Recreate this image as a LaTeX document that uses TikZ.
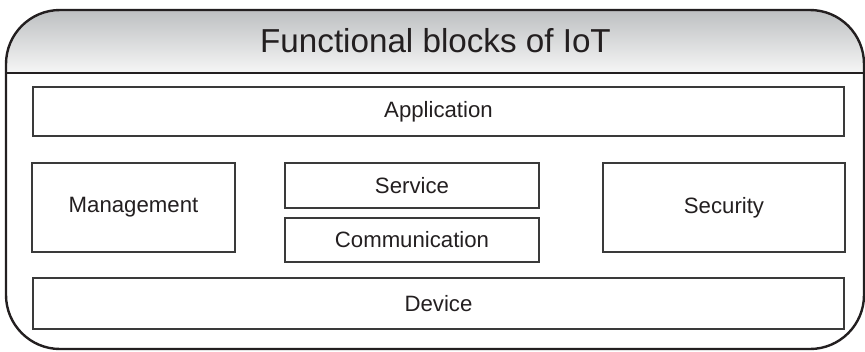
\documentclass[tikz,border=0pt]{standalone}
\usepackage{fontspec}
\setmainfont{Liberation Sans}
\definecolor{ink}{HTML}{231F20}
\definecolor{boxline}{HTML}{3A3A3A}
\definecolor{headtop}{HTML}{B4B7B9}
\definecolor{headbot}{HTML}{F6F6F6}
\tikzset{
  block/.style={draw=boxline, line width=1.3pt, inner sep=0pt, text=ink,
    font=\fontsize{22.2}{25}\selectfont, anchor=center},
}
\begin{document}
\begin{tikzpicture}[x=1pt,y=-1pt]
\useasboundingbox (0,0) rectangle (865,351);
% header shading
\begin{scope}
  \clip[rounded corners=54pt] (6,10) rectangle (864,349);
  \shade[top color=headtop, bottom color=headbot] (0,0) rectangle (865,73);
\end{scope}
\draw[ink, line width=2.2pt] (6,73) -- (864,73);
\draw[ink, line width=2.4pt, rounded corners=54pt] (6,10) rectangle (864,349);
\node[text=ink, font=\fontsize{33.2}{36}\selectfont, anchor=base] (title) at (435.5,52) {Functional blocks of IoT};
\node[block, minimum width=811pt, minimum height=49pt] (app) at (438.5,111.5) {Application};
\node[block, minimum width=203pt, minimum height=89pt] (mgmt) at (133.5,207.5) {Management};
\node[block, minimum width=254pt, minimum height=45pt] (svc) at (412,185.5) {Service};
\node[block, minimum width=254pt, minimum height=44pt] (comm) at (412,240) {Communication};
\node[block, minimum width=242pt, minimum height=89pt] (sec) at (724,207.5) {Security};
\node[block, minimum width=811pt, minimum height=51pt] (dev) at (438.5,303.5) {Device};
\end{tikzpicture}
\end{document}
